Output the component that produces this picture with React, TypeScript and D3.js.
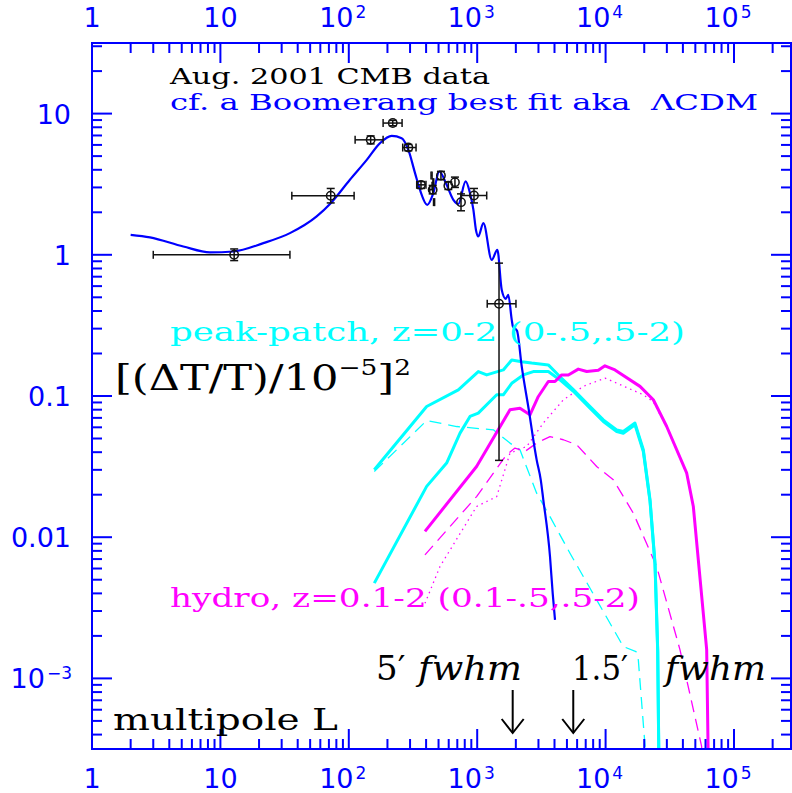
import React from "react";
import * as d3 from "d3";

// ---------- data ----------
// Boomerang-like best fit (LCDM) curve
const lcdmL = [2, 2.83, 5.14, 8.3, 12.6, 21.6, 34.8, 56.2, 72.3, 102, 138, 175, 216, 258, 291, 328, 358, 408, 455, 507, 578, 652, 713, 813, 879, 933, 978, 1020, 1117, 1297, 1435, 1552, 1667, 1746, 1858, 1900, 2042, 2222, 2546, 2735, 2905, 3126, 3273, 3690, 3873, 4036];
const lcdmV = [1.386, 1.33, 1.145, 1.04, 1.055, 1.21, 1.424, 1.87, 2.32, 3.4, 4.7, 6.18, 6.96, 6.7, 5.53, 3.79, 2.89, 2.26, 2.73, 3.89, 3.13, 2.45, 2.29, 3.31, 2.73, 2.1, 1.5, 1.35, 1.68, 0.92, 1.085, 0.565, 0.488, 0.52, 0.346, 0.309, 0.29, 0.162, 0.0757, 0.049, 0.0353, 0.0255, 0.0184, 0.0073, 0.004, 0.0026];

// Aug. 2001 CMB band powers
const dataL = [12.8, 72.3, 148, 220, 291, 365, 450, 522, 596, 671, 748, 944, 1479];
const dataV = [1.0, 2.62, 6.52, 8.57, 5.75, 3.13, 2.89, 3.64, 3.08, 3.27, 2.36, 2.63, 0.45];
const dataLlo = [3.0, 36, 112, 185, 263, 338, 427, 437, 445, 452, 457, 748, 1197];
const dataLhi = [34.8, 110, 185, 260, 334, 399, 452, 445.3, 451.7, 459, 466, 1186, 2004];
const dataVlo = [0.91, 2.33, 6.1, 8.2, 5.45, 2.95, 2.7, 3.4, 2.9, 3.0, 2.05, 2.33, 0.035];
const dataVhi = [1.1, 2.95, 6.95, 8.95, 6.05, 3.3, 3.1, 3.9, 3.28, 3.55, 2.7, 2.95, 0.873];

// peak-patch, z=0-2 (total), z=.5-2, z=0-.5
const ppTotL = [158, 404, 713, 1020, 1186, 1597, 1858, 2222, 2655, 3580, 4417, 5608, 7565, 9600, 12200, 13740, 16940, 19670, 22180, 24260, 25460, 26300];
const ppTotV = [0.030, 0.0843, 0.1106, 0.149, 0.141, 0.153, 0.18, 0.175, 0.171, 0.166, 0.137, 0.111, 0.0843, 0.0678, 0.0576, 0.056, 0.0643, 0.0416, 0.0184, 0.00656, 0.0016, 0.0001];
const ppHiL = [158, 404, 578, 735, 879, 1020, 1419, 1597, 1858, 2286, 2735, 3580, 4417, 5608, 7565, 9600, 12200, 13740, 16940, 19670, 22180, 24260, 25460, 26300];
const ppHiV = [0.00473, 0.0229, 0.0335, 0.0546, 0.0716, 0.0757, 0.102, 0.102, 0.123, 0.141, 0.149, 0.149, 0.130, 0.108, 0.082, 0.066, 0.056, 0.0545, 0.0625, 0.0405, 0.0180, 0.0064, 0.00155, 0.0001];
const ppLoL = [158, 404, 692, 1337, 1800, 2153, 2905, 3690, 5280, 8520, 13740, 17250, 17990, 20300, 21500];
const ppLoV = [0.0292, 0.067, 0.0608, 0.0576, 0.0464, 0.0416, 0.0205, 0.014, 0.0077, 0.0036, 0.00168, 0.00155, 0.00135, 0.00033, 0.0001];

// hydro, z=0.1-2 (total), z=.5-2, z=0.1-.5
const hyTotL = [392, 989, 1800, 2153, 2576, 2994, 3580, 4036, 4550, 5130, 6130, 7130, 8780, 9890, 11830, 18530, 23540, 29920, 42840, 48230, 61270, 62800, 63500];
const hyTotV = [0.011, 0.0317, 0.0798, 0.082, 0.0736, 0.0992, 0.1267, 0.1267, 0.141, 0.141, 0.155, 0.149, 0.152, 0.1637, 0.153, 0.117, 0.094, 0.0608, 0.0284, 0.0165, 0.0016, 0.00033, 0.0001];
const hyHiL = [392, 513, 989, 1419, 1800, 2427, 3273, 4690, 6710, 9890, 19670, 23540, 29920, 42840, 48230, 61270, 62800, 63500];
const hyHiV = [0.0034, 0.0062, 0.0165, 0.0194, 0.0394, 0.0439, 0.0643, 0.094, 0.117, 0.134, 0.102, 0.091, 0.06, 0.028, 0.016, 0.0016, 0.00033, 0.0001];
const hyLoL = [392, 989, 1695, 1968, 2355, 2905, 3690, 4690, 5960, 8520, 11480, 16440, 24990, 37930, 55970, 58000];
const hyLoV = [0.0075, 0.0194, 0.0384, 0.0428, 0.0405, 0.0464, 0.0516, 0.049, 0.0451, 0.0317, 0.0255, 0.0148, 0.0062, 0.0016, 0.00033, 0.0001];

// beam sizes (5' and 1.5' fwhm)
const beamL = [1890, 5600];

// tick labels
const xTickValues = [1, 10, 100, 1e3, 1e4, 1e5];
const xTickBase = ["1", "10", "10", "10", "10", "10"];
const xTickExp = ["", "", "2", "3", "4", "5"];
const yTickValues = [1e-3, 0.01, 0.1, 1, 10];
const yTickBase = ["10", "0.01", "0.1", "1", "10"];
const yTickExp = ["−3", "", "", "", ""];

// ---------- layout ----------
const W = 792, H = 793;
const L0 = 92, R0 = 791, T0 = 43, B0 = 749;
const BLUE = "#0000ff", CYAN = "#00ffff", MAG = "#ff00ff";

const x = d3.scaleLog().domain([1, Math.pow(10, 5.444)]).range([L0, R0]);
const y = d3.scaleLog().domain([Math.pow(10, -3.5), Math.pow(10, 1.5)]).range([B0, T0]);

function minorTicks(lo: number, hi: number) {
  const out: { v: number; major: boolean }[] = [];
  for (let e = Math.floor(Math.log10(lo)) - 1; e <= Math.ceil(Math.log10(hi)); e++) {
    for (let m = 1; m <= 9; m++) {
      const v = m * Math.pow(10, e);
      if (v >= lo * 0.9999 && v <= hi * 1.0001) out.push({ v, major: m === 1 });
    }
  }
  return out;
}

const xTicks = minorTicks(x.domain()[0], x.domain()[1]);
const yTicks = minorTicks(y.domain()[0], y.domain()[1]);

const lineLin = d3.line<[number, number]>().x((d) => x(d[0])).y((d) => y(d[1]));
const lineSmooth = d3
  .line<[number, number]>()
  .x((d) => x(d[0]))
  .y((d) => y(d[1]))
  .curve(d3.curveMonotoneX);

const zip = (a: number[], b: number[]) => a.map((v, i) => [v, b[i]] as [number, number]);

const serif = "'DejaVu Serif', serif";
const sans = "'DejaVu Sans', sans-serif";

export default function App() {
  return (
    <svg
      width={W}
      height={H}
      viewBox={`0 0 ${W} ${H}`}
      style={{ position: "absolute", left: 0, top: 0, background: "#fff" }}
    >
      <defs>
        <clipPath id="plot">
          <rect x={L0} y={T0} width={R0 - L0} height={B0 - T0} />
        </clipPath>
      </defs>
      <rect x={0} y={0} width={W} height={H} fill="#fff" />

      {/* model curves */}
      <g clipPath="url(#plot)" fill="none" strokeLinejoin="round">
        <path d={lineLin(zip(ppLoL, ppLoV)) || ""} stroke={CYAN} strokeWidth={1.3} strokeDasharray="12,7" />
        <path d={lineLin(zip(hyLoL, hyLoV)) || ""} stroke={MAG} strokeWidth={1.3} strokeDasharray="12,7" />
        <path d={lineLin(zip(hyHiL, hyHiV)) || ""} stroke={MAG} strokeWidth={1.3} strokeDasharray="1.5,4" />
        <path d={lineLin(zip(ppHiL, ppHiV)) || ""} stroke={CYAN} strokeWidth={3} />
        <path d={lineLin(zip(ppTotL, ppTotV)) || ""} stroke={CYAN} strokeWidth={3} />
        <path d={lineLin(zip(hyTotL, hyTotV)) || ""} stroke={MAG} strokeWidth={3} />
        <path d={lineSmooth(zip(lcdmL, lcdmV)) || ""} stroke={BLUE} strokeWidth={2.2} />
      </g>

      {/* data points */}
      <g stroke="#111" strokeWidth={1.5} fill="none">
        {dataL.map((l, i) => {
          const cx = x(l), cy = y(dataV[i]);
          const x1 = x(dataLlo[i]), x2 = x(dataLhi[i]);
          const y1 = y(dataVhi[i]), y2 = y(dataVlo[i]);
          return (
            <g key={i}>
              <line x1={x1} x2={x2} y1={cy} y2={cy} />
              <line x1={x1} x2={x1} y1={cy - 4} y2={cy + 4} />
              <line x1={x2} x2={x2} y1={cy - 4} y2={cy + 4} />
              <line x1={cx} x2={cx} y1={y1} y2={y2} />
              <line x1={cx - 4} x2={cx + 4} y1={y1} y2={y1} />
              <line x1={cx - 4} x2={cx + 4} y1={y2} y2={y2} />
              <circle cx={cx} cy={cy} r={4.2} />
            </g>
          );
        })}
      </g>

      {/* frame & ticks */}
      <g stroke={BLUE} strokeWidth={2} fill="none">
        <rect x={L0} y={T0} width={R0 - L0} height={B0 - T0} />
        {xTicks.map((t, i) => {
          const px = x(t.v);
          const len = t.major ? 20 : 10;
          return (
            <g key={"xt" + i}>
              <line x1={px} x2={px} y1={T0} y2={T0 + len} />
              <line x1={px} x2={px} y1={B0} y2={B0 - len} />
            </g>
          );
        })}
        {yTicks.map((t, i) => {
          const py = y(t.v);
          const len = t.major ? 20 : 10;
          return (
            <g key={"yt" + i}>
              <line x1={L0} x2={L0 + len} y1={py} y2={py} />
              <line x1={R0} x2={R0 - len} y1={py} y2={py} />
            </g>
          );
        })}
      </g>

      {/* tick labels */}
      <g fill={BLUE} fontFamily={sans} fontSize={27}>
        {xTickValues.map((v, i) => {
          const px = x(v);
          const hasExp = xTickExp[i] !== "";
          const off = hasExp ? -6 : 0;
          return (
            <g key={"xl" + i}>
              {[27, 788].map((by, j) => (
                <text key={j} x={px + off} y={by} textAnchor="middle">
                  {xTickBase[i]}
                  {hasExp && (
                    <tspan fontSize={17} dy={-9} dx={2}>
                      {xTickExp[i]}
                    </tspan>
                  )}
                </text>
              ))}
            </g>
          );
        })}
        {yTickValues.map((v, i) => {
          const py = y(v);
          const hasExp = yTickExp[i] !== "";
          return (
            <text key={"yl" + i} x={hasExp ? 72 : 71} y={py + 10} textAnchor="end">
              {yTickBase[i]}
              {hasExp && (
                <tspan fontSize={17} dy={-9} dx={2}>
                  {yTickExp[i]}
                </tspan>
              )}
            </text>
          );
        })}
      </g>

      {/* annotations */}
      <g fontFamily={serif}>
        <text x={170} y={84} fontSize={22} fill="#000" textLength={320} lengthAdjust="spacingAndGlyphs">
          Aug. 2001 CMB data
        </text>
        <text
          x={170}
          y={110}
          fontSize={22}
          fill={BLUE}
          textLength={588}
          lengthAdjust="spacingAndGlyphs"
          style={{ whiteSpace: "pre" }}
        >
          cf. a Boomerang best fit aka  ΛCDM
        </text>
        <text x={170} y={341} fontSize={26} fill={CYAN} textLength={515} lengthAdjust="spacingAndGlyphs">
          peak-patch, z=0-2 (0-.5,.5-2)
        </text>
        <text x={170} y={607} fontSize={26} fill={MAG} textLength={470} lengthAdjust="spacingAndGlyphs">
          hydro, z=0.1-2 (0.1-.5,.5-2)
        </text>
        <g transform="translate(115,390) scale(1.2,1)">
          <text x={0} y={0} fontSize={36} fill="#000">
            [(ΔT/T)/10
            <tspan fontSize={22} dy={-15}>−5</tspan>
            <tspan fontSize={36} dy={15}>]</tspan>
            <tspan fontSize={22} dy={-15}>2</tspan>
          </text>
        </g>
        <text x={113} y={730} fontSize={29} fill="#000" textLength={225} lengthAdjust="spacingAndGlyphs">
          multipole L
        </text>
        <text x={376} y={680} fontSize={34} fill="#000">
          5′
        </text>
        <text x={418} y={680} fontSize={34} fill="#000" fontStyle="italic" textLength={104} lengthAdjust="spacingAndGlyphs">
          fwhm
        </text>
        <text x={572} y={680} fontSize={34} fill="#000" textLength={56} lengthAdjust="spacingAndGlyphs">
          1.5′
        </text>
        <text x={665} y={680} fontSize={34} fill="#000" fontStyle="italic" textLength={101} lengthAdjust="spacingAndGlyphs">
          fwhm
        </text>
      </g>

      {/* beam arrows */}
      <g stroke="#000" strokeWidth={2} fill="none">
        {beamL.map((l, i) => {
          const px = x(l);
          return (
            <g key={"ar" + i}>
              <line x1={px} x2={px} y1={690} y2={733} />
              <polyline points={`${px - 11},${719} ${px},${733} ${px + 11},${719}`} />
            </g>
          );
        })}
      </g>
    </svg>
  );
}
